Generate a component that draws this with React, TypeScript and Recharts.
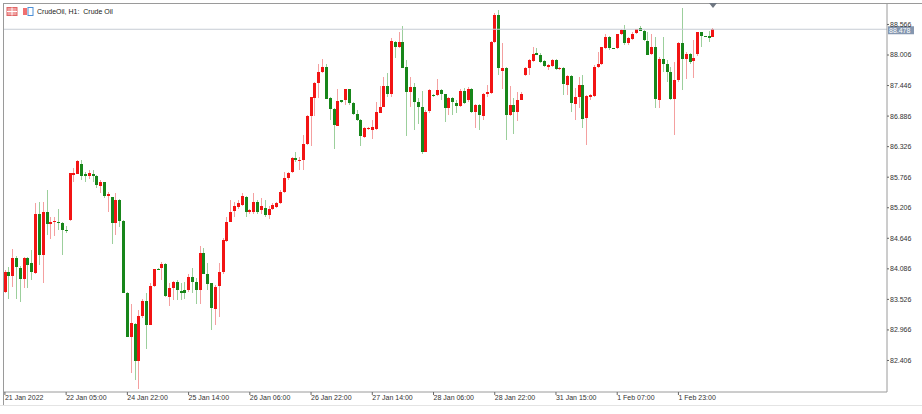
import React from 'react';
import { ComposedChart, Bar, XAxis, YAxis, ReferenceLine } from 'recharts';

// CrudeOil H1 candles (oldest first)
const opens = [
  83.67, 84.03, 83.95, 84.28, 84.11, 83.90, 84.28, 84.19, 84.02, 85.10,
  84.34, 85.13, 84.91, 84.94, 84.95, 84.93, 84.80, 84.97, 85.81, 85.84,
  86.01, 85.82, 85.79, 85.82, 85.78, 85.61, 85.67, 85.41, 85.41, 84.93,
  85.35, 84.97, 83.65, 82.84, 83.07, 82.40, 83.22, 83.50, 83.06, 83.76,
  84.09, 84.09, 84.17, 83.58, 83.74, 83.85, 83.68, 83.70, 83.70, 83.94,
  83.85, 83.70, 84.38, 84.00, 83.82, 83.36, 83.76, 84.02, 84.61, 84.95,
  85.13, 85.21, 85.26, 85.41, 85.13, 85.13, 85.32, 85.16, 85.21, 85.08,
  85.19, 85.23, 85.29, 85.50, 85.75, 85.85, 86.11, 86.08, 86.08, 86.37,
  86.88, 87.23, 87.50, 87.70, 87.79, 87.21, 87.01, 86.72, 87.18, 87.17,
  87.38, 87.12, 86.92, 86.81, 86.50, 86.65, 86.64, 86.66, 86.95, 87.06,
  87.44, 87.29, 88.25, 88.15, 88.25, 87.78, 87.32, 87.42, 87.15, 87.05,
  86.23, 86.97, 87.27, 87.27, 87.36, 87.29, 87.03, 87.21, 87.13, 87.07,
  87.35, 87.18, 87.39, 86.97, 87.09, 86.90, 87.30, 87.31, 88.25, 88.74,
  87.70, 87.76, 86.90, 87.09, 86.97, 87.19, 87.64, 87.76, 87.90, 88.04,
  88.01, 87.90, 87.79, 87.80, 87.91, 87.75, 87.76, 87.46, 87.62, 87.12,
  87.24, 87.46, 86.84, 87.23, 87.25, 87.78, 87.84, 88.13, 88.33, 88.13,
  88.13, 88.39, 88.46, 88.22, 88.31, 88.40, 88.51, 88.45, 88.27, 88.02,
  88.15, 87.19, 87.94, 87.85, 87.70, 87.21, 87.54, 88.22, 87.93, 88.02,
  87.90, 88.02, 88.42, 88.35, 88.35, 88.33,
];

const highs = [
  84.06, 84.12, 84.45, 84.32, 84.13, 84.30, 84.31, 84.43, 85.29, 85.32,
  85.32, 85.54, 85.04, 85.04, 85.18, 84.95, 84.87, 85.85, 85.93, 86.08,
  86.08, 85.87, 85.89, 85.89, 85.81, 85.71, 85.68, 85.50, 85.41, 85.48,
  85.36, 84.99, 83.66, 83.45, 83.09, 83.33, 83.54, 83.64, 83.82, 84.09,
  84.10, 84.22, 84.19, 83.83, 83.87, 83.88, 83.82, 83.85, 84.00, 84.11,
  83.91, 84.50, 84.46, 84.19, 83.83, 83.79, 84.19, 84.66, 85.04, 85.35,
  85.32, 85.35, 85.47, 85.42, 85.19, 85.47, 85.35, 85.38, 85.35, 85.23,
  85.29, 85.32, 85.53, 85.87, 85.87, 86.14, 86.23, 86.14, 86.54, 86.91,
  87.24, 87.52, 87.85, 87.93, 87.85, 87.23, 87.03, 87.39, 87.19, 87.39,
  87.39, 87.15, 87.00, 86.83, 86.68, 86.69, 86.81, 87.15, 87.43, 87.61,
  87.67, 88.31, 88.27, 88.43, 88.54, 87.91, 87.60, 87.50, 87.21, 87.35,
  87.00, 87.39, 87.29, 87.56, 87.39, 87.30, 87.23, 87.24, 87.18, 87.39,
  87.41, 87.42, 87.41, 87.11, 87.11, 87.31, 87.46, 88.26, 88.77, 88.83,
  88.22, 87.79, 87.44, 87.21, 87.32, 87.33, 87.79, 87.94, 88.15, 88.13,
  88.04, 87.91, 87.85, 87.94, 87.94, 87.79, 87.79, 87.64, 87.64, 87.41,
  87.61, 87.64, 87.27, 87.30, 87.82, 88.07, 88.16, 88.40, 88.35, 88.14,
  88.40, 88.49, 88.56, 88.34, 88.42, 88.49, 88.54, 88.46, 88.43, 88.40,
  88.33, 87.97, 88.33, 87.91, 87.79, 87.88, 88.25, 88.86, 88.07, 88.05,
  88.29, 88.43, 88.43, 88.36, 88.45, 88.51,
];

const lows = [
  83.64, 83.54, 83.76, 83.54, 83.47, 83.73, 83.73, 83.88, 84.00, 84.16,
  83.82, 84.71, 84.64, 84.69, 84.80, 84.34, 84.74, 84.96, 85.68, 85.83,
  85.71, 85.68, 85.73, 85.68, 85.56, 85.47, 85.38, 85.13, 84.55, 84.71,
  84.86, 83.64, 82.83, 82.17, 82.05, 81.89, 83.18, 82.61, 83.05, 83.75,
  84.07, 83.88, 83.57, 83.40, 83.51, 83.51, 83.51, 83.54, 83.67, 83.64,
  83.45, 83.45, 83.99, 83.70, 82.96, 83.06, 83.21, 84.00, 84.58, 84.94,
  85.04, 85.18, 85.23, 85.03, 85.10, 85.10, 85.10, 85.10, 85.04, 85.00,
  85.16, 85.21, 85.27, 85.47, 85.71, 85.84, 86.05, 85.90, 85.90, 86.36,
  86.33, 86.88, 87.21, 87.67, 87.20, 86.81, 86.29, 86.70, 87.13, 87.09,
  87.09, 86.91, 86.80, 86.34, 86.48, 86.63, 86.46, 86.63, 86.94, 87.05,
  87.24, 87.24, 87.95, 88.13, 87.76, 86.52, 87.05, 86.63, 86.75, 86.20,
  86.22, 86.95, 87.24, 87.25, 87.18, 86.78, 86.91, 86.91, 86.94, 87.05,
  87.11, 87.15, 86.94, 86.67, 86.63, 86.81, 87.24, 87.30, 88.23, 87.64,
  87.39, 86.45, 86.89, 86.55, 86.80, 87.18, 87.62, 87.64, 87.88, 88.00,
  87.86, 87.79, 87.73, 87.79, 87.73, 87.73, 87.27, 87.27, 86.97, 86.81,
  87.03, 86.66, 86.36, 87.18, 87.24, 87.76, 87.82, 88.11, 88.10, 88.11,
  88.11, 88.37, 88.19, 88.19, 88.29, 88.39, 88.45, 88.27, 88.01, 88.01,
  87.03, 87.03, 87.70, 87.52, 87.18, 86.54, 87.52, 87.36, 87.56, 87.85,
  87.58, 87.99, 88.16, 88.33, 88.25, 88.33,
];

const closes = [
  84.03, 83.95, 84.28, 84.11, 83.90, 84.28, 84.16, 84.02, 85.10, 84.34,
  85.13, 84.91, 84.95, 84.96, 84.94, 84.80, 84.79, 85.84, 85.84, 86.07,
  85.79, 85.79, 85.84, 85.78, 85.62, 85.68, 85.41, 85.45, 84.93, 85.35,
  84.97, 83.65, 82.84, 83.09, 82.40, 83.22, 83.50, 83.06, 83.77, 84.08,
  84.08, 84.17, 83.58, 83.74, 83.85, 83.70, 83.65, 83.65, 83.94, 83.85,
  83.70, 84.38, 84.00, 83.82, 83.36, 83.76, 84.02, 84.61, 84.95, 85.13,
  85.23, 85.29, 85.42, 85.13, 85.16, 85.32, 85.13, 85.23, 85.08, 85.19,
  85.26, 85.30, 85.50, 85.75, 85.85, 86.11, 86.08, 86.09, 86.37, 86.88,
  87.23, 87.50, 87.70, 87.79, 87.21, 87.00, 86.72, 87.17, 87.15, 87.38,
  87.12, 86.92, 86.81, 86.51, 86.66, 86.67, 86.69, 86.97, 87.06, 87.44,
  87.30, 88.27, 88.15, 88.25, 87.78, 87.32, 87.42, 87.15, 87.05, 86.23,
  86.97, 87.36, 87.25, 87.36, 87.29, 87.03, 87.21, 87.13, 87.07, 87.35,
  87.13, 87.39, 86.97, 87.09, 86.90, 87.30, 87.33, 88.25, 88.74, 87.76,
  87.76, 86.90, 87.09, 86.97, 87.19, 87.30, 87.76, 87.91, 88.02, 88.01,
  87.88, 87.81, 87.82, 87.91, 87.74, 87.77, 87.46, 87.62, 87.12, 87.24,
  87.46, 86.84, 87.25, 87.27, 87.78, 87.84, 88.15, 88.33, 88.13, 88.12,
  88.39, 88.46, 88.22, 88.31, 88.40, 88.48, 88.46, 88.29, 88.02, 88.15,
  87.19, 87.94, 87.85, 87.70, 87.21, 87.55, 88.22, 87.93, 88.02, 87.88,
  87.95, 88.42, 88.35, 88.34, 88.31, 88.478,
];

// one label every 16 bars
const timeLabels = [
  '21 Jan 2022', '22 Jan 05:00', '24 Jan 22:00', '25 Jan 14:00',
  '26 Jan 06:00', '26 Jan 22:00', '27 Jan 14:00', '28 Jan 06:00',
  '28 Jan 22:00', '31 Jan 15:00', '1 Feb 07:00', '1 Feb 23:00',
];
const priceTicks = [
  82.406, 82.966, 83.526, 84.086, 84.646, 85.206,
  85.766, 86.326, 86.886, 87.446, 88.006, 88.566,
];
const lastPrice = 88.478;
const priceDomain = [81.828, 88.941];
const slotCount = 231; // chart keeps empty space on the right

const FONT = '"Liberation Sans", Arial, sans-serif';
const UP = '#f21414';
const DOWN = '#17861a';
const UP_WICK = '#f4a0a0';
const DOWN_WICK = '#9ccf9c';

const rows = Array.from({ length: slotCount }, (_, i) =>
  i < opens.length
    ? { i, o: opens[i], h: highs[i], l: lows[i], c: closes[i] }
    : { i }
);

const Candle = (props: any) => {
  const { x, y, width, height, payload } = props;
  if (payload == null || payload.o == null || y == null) return <g />;
  const top = Math.min(y, y + height);
  const h = Math.abs(height);
  const range = payload.h - payload.l || 1;
  const k = h / range;
  const up = payload.c >= payload.o;
  const cx = Math.floor(x + width / 2);
  const bTop = top + (payload.h - Math.max(payload.o, payload.c)) * k;
  const bBot = top + (payload.h - Math.min(payload.o, payload.c)) * k;
  const bh = Math.max(1, Math.round(bBot - bTop));
  return (
    <g shapeRendering="crispEdges">
      <line x1={cx + 0.5} x2={cx + 0.5} y1={top} y2={top + h} stroke={up ? UP_WICK : DOWN_WICK} strokeWidth={1} />
      <rect x={cx - 1} y={Math.round(bTop)} width={3} height={bh} fill={up ? UP : DOWN} />
    </g>
  );
};

const TimeTick = (props: any) => {
  const { x, y, payload } = props;
  const label = timeLabels[Math.round(payload.value / 16)];
  return (
    <text x={x} y={y + 5} fontSize={7} fill="#333" fontFamily={FONT} textAnchor="start">
      {label}
    </text>
  );
};

const PriceBox = (props: any) => {
  const vb = props.viewBox;
  if (!vb) return null;
  const right = vb.x + vb.width;
  return (
    <g>
      <rect x={right + 1} y={vb.y - 3} width={26} height={8} fill="#8597b0" />
      <text x={right + 2} y={vb.y + 3.5} fontSize={7} fill="#fff" fontFamily={FONT}>
        {lastPrice.toFixed(3)}
      </text>
    </g>
  );
};

export default function App() {
  return (
    <div style={{ position: 'fixed', left: 0, top: 0, width: 922, height: 414, background: '#fff' }}>
      <ComposedChart
        width={922}
        height={414}
        data={rows}
        margin={{ top: 4, right: 0, bottom: 0, left: 3 }}
        barCategoryGap={0}
        barGap={0}
      >
        <XAxis
          dataKey="i"
          type="category"
          ticks={timeLabels.map((_, n) => n * 16)}
          interval={0}
          height={22}
          tickSize={3}
          tickMargin={0}
          tick={<TimeTick />}
          axisLine={{ stroke: '#9a9a9a' }}
          tickLine={{ stroke: '#666' }}
        />
        <YAxis
          orientation="right"
          domain={priceDomain}
          allowDataOverflow
          ticks={priceTicks}
          width={35}
          tickSize={2}
          tickMargin={1}
          tickFormatter={(v: number) => v.toFixed(3)}
          tick={{ fontSize: 7, fill: '#333', fontFamily: FONT }}
          axisLine={{ stroke: '#9a9a9a' }}
          tickLine={{ stroke: '#666' }}
        />
        <ReferenceLine y={lastPrice} stroke="#c6ccd4" strokeWidth={1} label={<PriceBox />} />
        <Bar
          dataKey={(d: any) => (d.o == null ? null : [d.l, d.h])}
          shape={(p: any) => <Candle {...p} />}
          isAnimationActive={false}
        />
      </ComposedChart>

      {/* frame lines of the terminal window */}
      <div style={{ position: 'absolute', left: 3, top: 3, width: 919, height: 1, background: '#9a9a9a' }} />
      <div style={{ position: 'absolute', left: 3, top: 3, width: 1, height: 402, background: '#9a9a9a' }} />
      <div style={{ position: 'absolute', left: 0, top: 405, width: 922, height: 1, background: '#e4e4e4' }} />

      {/* shift marker */}
      <div
        style={{
          position: 'absolute', left: 709, top: 3, width: 0, height: 0,
          borderLeft: '4px solid transparent', borderRight: '4px solid transparent',
          borderTop: '5px solid #6f7782',
        }}
      />

      {/* title with the two small toolbar icons */}
      <svg style={{ position: 'absolute', left: 6, top: 7 }} width={30} height={10}>
        <rect x={1} y={0.5} width={10} height={8} fill="#f0a0a0" stroke="#e06666" />
        <line x1={1} x2={11} y1={4.5} y2={4.5} stroke="#fff" />
        <line x1={6} x2={6} y1={0.5} y2={8.5} stroke="#fff" />
        <rect x={17} y={1} width={4} height={7} fill="#f07070" />
        <rect x={22} y={0.5} width={5} height={8} fill="#fff" stroke="#4d8fd6" />
      </svg>
      <div
        style={{
          position: 'absolute', left: 37, top: 7, fontSize: 7, lineHeight: '9px',
          fontFamily: FONT, color: '#222', whiteSpace: 'pre',
        }}
      >
        {'CrudeOil, H1:  Crude Oil'}
      </div>
    </div>
  );
}
